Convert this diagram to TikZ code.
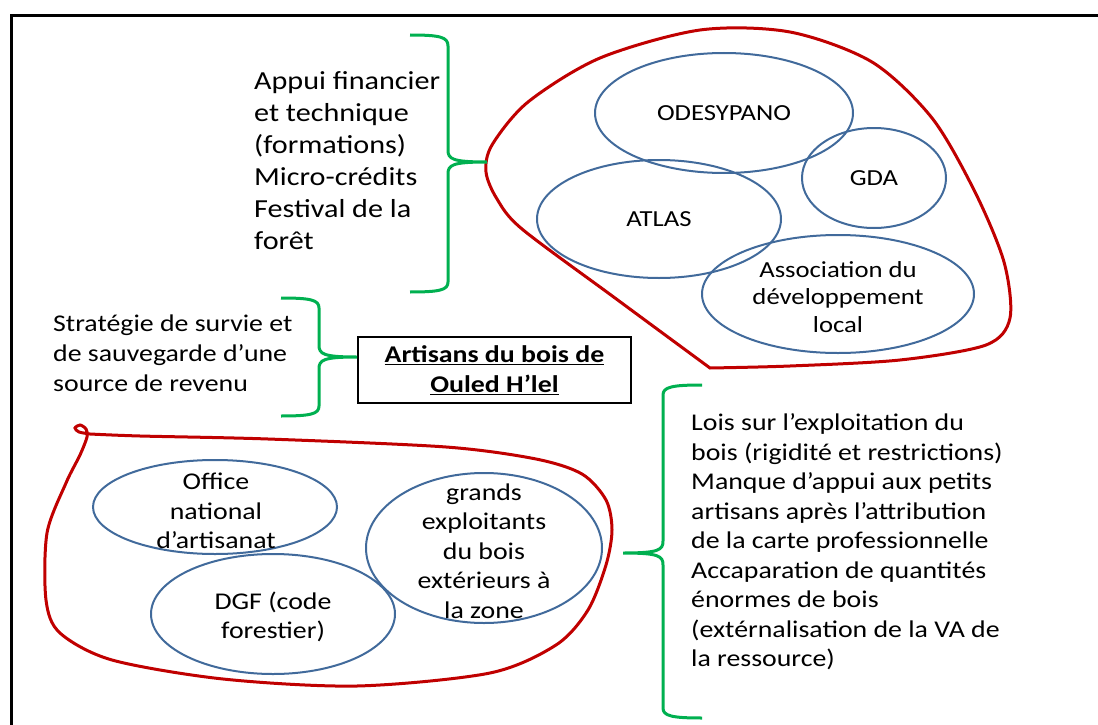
\documentclass[tikz,border=0pt]{standalone}
\usepackage{fontspec}
\setmainfont{Carlito}[FakeStretch=1.16]
\usetikzlibrary{shapes.geometric}
\definecolor{rouge}{RGB}{192,0,0}
\definecolor{bleu}{RGB}{65,106,155}
\definecolor{vert}{RGB}{0,176,80}

\begin{document}
\begin{tikzpicture}[x=1pt, y=-1pt,
		redloop/.style={rouge, line width=3pt},
		blueoval/.style={ellipse, draw=bleu, line width=2pt, inner sep=0pt},
		greenbrace/.style={vert, line width=3pt},
		ovaltext/.style={align=center, inner sep=0pt},
		sidetext/.style={align=left, anchor=west, inner sep=0pt}]

	\useasboundingbox (0,0) rectangle (1098,725);
	\draw[line width=3.5pt] (11.5,725) -- (11.5,15.5) -- (1098,15.5);

	\draw[redloop] plot[smooth, tension=0.5] coordinates {(710,368) (615,298) (522,229) (497,199) (486,172) (492,145) (528,102) (600,58) (700,30) (790,32) (872,62) (932,118) (975,192) (1004,262) (1010,318) (986,345) (900,360) (790,366) (710,368)} -- cycle;

	\draw[redloop] plot[smooth, tension=0.5] coordinates {(90,434) (140,436) (268,439) (446,447) (536,459) (582,474) (606,500) (612,530) (606,565) (588,610) (556,645) (490,673) (357,686) (223,679) (112,660) (60,633) (46,600) (47,533) (66,483) (80,455) (87,437) (86,429) (80,425) (75,428) (79,432) (90,434)};

	\begin{scope}[font=\fontsize{23}{27.5}\selectfont]
		\node[blueoval, minimum width=258, minimum height=120] (odesypano) at (724,113) {};
		\node[blueoval, minimum width=144, minimum height=100] (gda) at (874,178) {};
		\node[blueoval, minimum width=244, minimum height=118] (atlas) at (659,219) {};
		\node[blueoval, minimum width=272, minimum height=118] (assoc) at (838,294) {};
		\node[ovaltext] (odesypano-t) at (odesypano) {ODESYPANO};
		\node[ovaltext] (gda-t) at (gda) {GDA};
		\node[ovaltext] (atlas-t) at (atlas) {ATLAS};
		\node[ovaltext] (assoc-t) at (838,297) {Association du\\développement\\local};
	\end{scope}

	\begin{scope}[font=\fontsize{24}{29.5}\selectfont]
		\node[blueoval, minimum width=244, minimum height=94] (office) at (215,507) {};
		\node[blueoval, minimum width=244, minimum height=120] (dgf) at (273,614) {};
		\node[blueoval, minimum width=236, minimum height=150] (grands) at (484,548) {};
		\node[ovaltext] (office-t) at (216,511) {Office\\national\\d’artisanat};
		\node[ovaltext] (dgf-t) at (273,617) {DGF (code\\forestier)};
		\node[ovaltext] (grands-t) at (484,551) {grands\\exploitants\\du bois\\extérieurs à\\la zone};
	\end{scope}

	\node[draw, line width=2pt, minimum width=273, minimum height=66, align=center, inner sep=0pt, font=\bfseries\fontsize{24}{30}\selectfont] (artisans) at (494.5,370) {\underline{Artisans du bois de}\\\underline{Ouled H’lel}};

	\node[sidetext, font=\fontsize{26}{32}\selectfont] (appui) at (254,161) {Appui financier\\et technique\\(formations)\\Micro-crédits\\Festival de la\\forêt};
	\node[sidetext, font=\fontsize{24}{29.8}\selectfont] (strategie) at (53,353) {Stratégie de survie et\\de sauvegarde d’une\\source de revenu};
	\node[sidetext, font=\fontsize{24}{29.5}\selectfont] (lois) at (691,542) {Lois sur l’exploitation du\\bois (rigidité et restrictions)\\Manque d’appui aux petits\\artisans après l’attribution\\de la carte professionnelle\\Accaparation de quantités\\énormes de bois\\(extérnalisation de la VA de\\la ressource)};

	\coordinate (tipA) at (487,162);
	\coordinate (tipB) at (artisans.north west |- 0,357);
	\coordinate (tipC) at (623,553);

	\draw[greenbrace] (410,35) .. controls (440,35) and (448,37) .. (448,46) -- (448,150) .. controls (448,159) and (452,162) .. (tipA) .. controls (452,162) and (448,165) .. (448,174) -- (448,282) .. controls (448,290) and (440,292) .. (410,292);
	\draw[greenbrace] (281,298) .. controls (311,298) and (319,300) .. (319,308) -- (319,345) .. controls (319,354) and (323,357) .. (tipB) .. controls (323,357) and (319,360) .. (319,369) -- (319,406) .. controls (319,414) and (311,416) .. (281,416);
	\draw[greenbrace] (702,385) .. controls (672,385) and (663,387) .. (663,395) -- (663,541) .. controls (663,550) and (659,553) .. (tipC) .. controls (659,553) and (663,556) .. (663,565) -- (663,708) .. controls (663,716) and (672,718) .. (702,718);
\end{tikzpicture}
\end{document}
